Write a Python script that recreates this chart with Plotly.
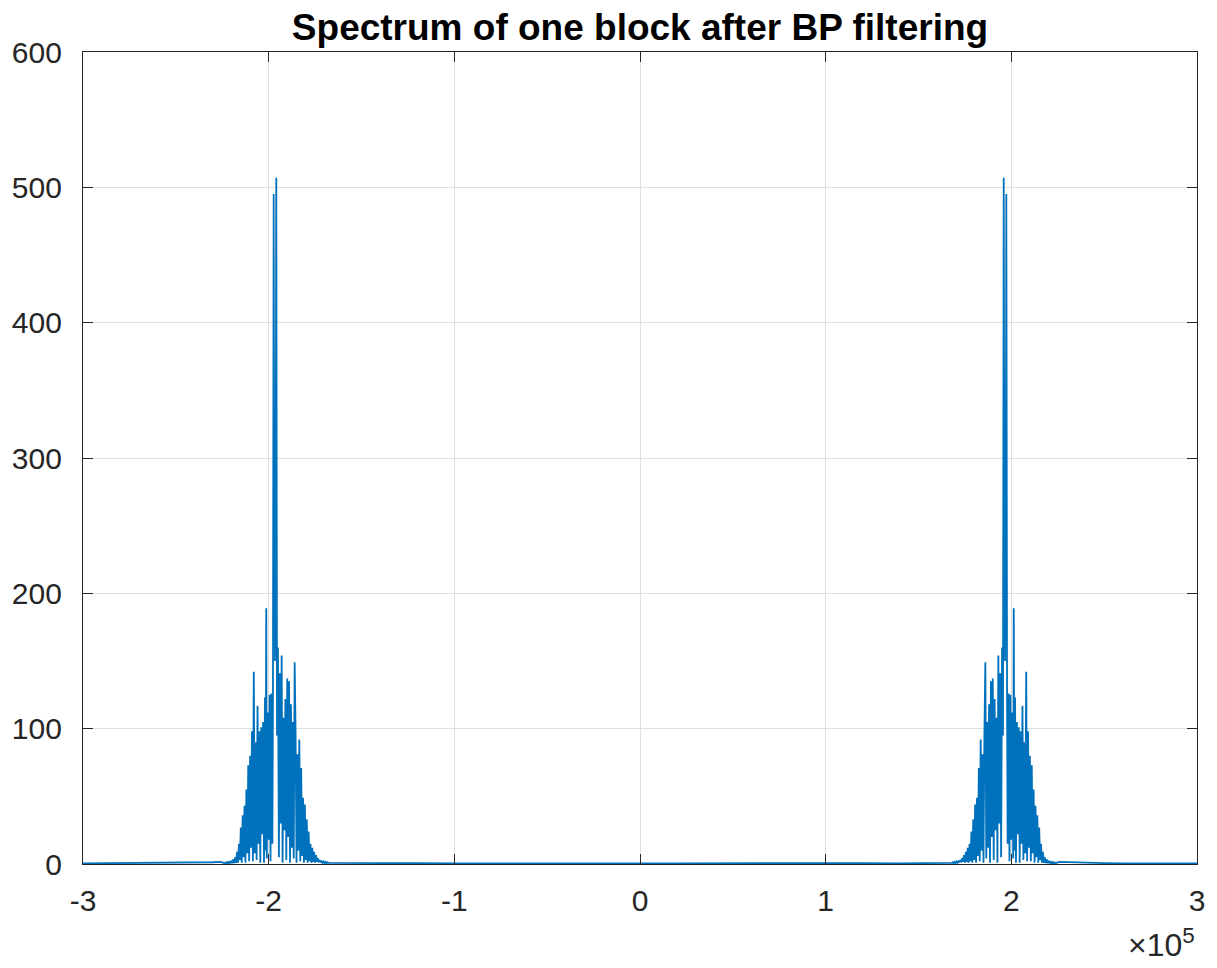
import plotly.graph_objects as go

# ---- data (frequency in kHz, magnitude) ----
floor_left_f = [-300, -290, -280, -270, -260, -250, -240, -235, -230, -226, -224.5]
floor_left_m = [0.5, 0.6, 0.4, 0.6, 0.5, 0.7, 0.8, 1.0, 1.3, 1.5, 0.8]

neg_f = [-224.0, -223.5, -223.0, -222.5, -222.0, -221.5, -221.0, -220.5, -220.0, -219.5,
         -219.0, -218.5, -218.0, -217.5, -217.0, -216.5, -216.0, -215.5, -215.0, -214.5,
         -214.0, -213.5, -213.0, -212.5, -212.0, -211.5, -211.0, -210.5, -210.0, -209.5,
         -209.0, -208.5, -208.0, -207.5, -207.0, -206.5, -206.0, -205.5, -205.0, -204.5,
         -204.0, -203.5, -203.0, -202.5, -202.0, -201.7, -201.3, -201.0, -200.5, -200.0,
         -199.5, -199.0, -198.5, -198.0, -197.7, -197.3, -197.0, -196.6, -196.3, -195.9,
         -195.5, -195.0, -194.5, -194.0, -193.5, -193.0, -192.5, -192.0, -191.5, -191.0,
         -190.5, -190.0, -189.5, -189.0, -188.5, -188.0, -187.5, -187.0, -186.5, -186.0,
         -185.5, -185.0, -184.5, -184.0, -183.5, -183.0, -182.5, -182.0, -181.5, -181.0,
         -180.5, -180.0, -179.5, -179.0, -178.5, -178.0, -177.5, -177.0, -176.5, -176.0,
         -175.5, -175.0, -174.5, -174.0, -173.5, -173.0, -172.5, -172.0, -171.5, -171.0,
         -170.5, -170.0, -169.5, -169.0, -168.5, -168.0]
neg_m = [1.0, 0.5, 1.2, 0.5, 1.5, 0.5, 1.9, 0.5, 2.5, 0.6,
         3.5, 0.7, 5, 0.8, 9, 1, 15, 3, 27, 1,
         36, 5, 43, 1, 55, 8, 73, 2, 80, 12,
         98, 2, 142, 8, 90, 3, 117, 15, 98, 1,
         101, 22, 105, 1, 123, 10, 189, 4, 112, 18,
         125, 2, 126, 15, 120, 495, 245, 150, 210, 507,
         95, 160, 5, 141, 30, 154, 1, 108, 25, 122,
         3, 137, 20, 135, 1, 118, 12, 105, 4, 149,
         96, 1, 81, 10, 92, 2, 71, 6, 49, 1,
         44, 3, 33, 1, 24, 2, 15, 1.0, 12, 1.5,
         9.0, 1.0, 6.5, 1.6, 4.2, 1.3, 2.9, 1.1, 2.3, 0.9,
         1.9, 0.8, 1.6, 0.7, 1.4, 0.9]

floor_mid_f = [-167, -160, -150, -140, -120, -100, -80, -60, -40, -20, 0,
               20, 40, 60, 80, 100, 120, 140, 150, 160, 167]
floor_mid_m = [0.8, 0.7, 0.6, 0.5, 0.6, 0.5, 0.4, 0.5, 0.6, 0.5, 0.4,
               0.5, 0.6, 0.5, 0.4, 0.5, 0.6, 0.5, 0.6, 0.7, 0.8]

pos_f = [168.0, 168.5, 169.0, 169.5, 170.0, 170.5, 171.0, 171.5, 172.0, 172.5,
         173.0, 173.5, 174.0, 174.5, 175.0, 175.5, 176.0, 176.5, 177.0, 177.5,
         178.0, 178.5, 179.0, 179.5, 180.0, 180.5, 181.0, 181.5, 182.0, 182.5,
         183.0, 183.5, 184.0, 184.5, 185.0, 185.5, 186.0, 186.5, 187.0, 187.5,
         188.0, 188.5, 189.0, 189.5, 190.0, 190.5, 191.0, 191.5, 192.0, 192.5,
         193.0, 193.5, 194.0, 194.5, 195.0, 195.5, 195.9, 196.3, 196.6, 197.0,
         197.3, 197.7, 198.0, 198.5, 199.0, 199.5, 200.0, 200.5, 201.0, 201.3,
         201.7, 202.0, 202.5, 203.0, 203.5, 204.0, 204.5, 205.0, 205.5, 206.0,
         206.5, 207.0, 207.5, 208.0, 208.5, 209.0, 209.5, 210.0, 210.5, 211.0,
         211.5, 212.0, 212.5, 213.0, 213.5, 214.0, 214.5, 215.0, 215.5, 216.0,
         216.5, 217.0, 217.5, 218.0, 218.5, 219.0, 219.5, 220.0, 220.5, 221.0,
         221.5, 222.0, 222.5, 223.0, 223.5, 224.0]
pos_m = [0.9, 1.4, 0.7, 1.6, 0.8, 1.9, 0.9, 2.3, 1.1, 2.9,
         1.3, 4.2, 1.6, 6.5, 1.0, 9.0, 1.5, 12, 1.0, 15,
         2, 24, 1, 33, 3, 44, 1, 49, 6, 71,
         2, 92, 10, 81, 1, 96, 149, 4, 105, 12,
         118, 1, 135, 20, 137, 3, 122, 25, 108, 1,
         154, 30, 141, 5, 160, 95, 507, 210, 150, 245,
         495, 120, 15, 126, 2, 125, 18, 112, 4, 189,
         10, 123, 1, 105, 22, 101, 1, 98, 15, 117,
         3, 90, 8, 142, 2, 98, 12, 80, 2, 73,
         8, 55, 1, 43, 5, 36, 1, 27, 3, 15,
         1, 9, 0.8, 5, 0.7, 3.5, 0.6, 2.5, 0.5, 1.9,
         0.5, 1.5, 0.5, 1.2, 0.5, 1.0]

floor_right_f = [224.5, 226, 230, 235, 240, 250, 260, 270, 280, 290, 300]
floor_right_m = [0.8, 1.5, 1.3, 1.0, 0.8, 0.7, 0.5, 0.6, 0.4, 0.6, 0.5]

x_tick_vals = [-3, -2, -1, 0, 1, 2, 3]          # units of 1e5 Hz
x_tick_text = ["-3", "-2", "-1", "0", "1", "2", "3"]
y_tick_vals = [0, 100, 200, 300, 400, 500, 600]

title_text = "Spectrum of one block after BP filtering"

# ---- build ----
freq_khz = floor_left_f + neg_f + floor_mid_f + pos_f + floor_right_f
mag = floor_left_m + neg_m + floor_mid_m + pos_m + floor_right_m
freq_hz = [f * 1000 for f in freq_khz]

fig = go.Figure()
fig.add_trace(go.Scatter(
    x=freq_hz, y=mag, mode="lines",
    line=dict(color="#0072BD", width=1.8),
    showlegend=False, hoverinfo="skip",
))

FONT = "Liberation Sans, Arial, Helvetica, sans-serif"
AX = "#262626"

fig.update_layout(
    width=1217, height=968,
    margin=dict(l=83, r=20, t=52, b=104),
    paper_bgcolor="white", plot_bgcolor="white",
    font=dict(family=FONT, size=30, color=AX),
    title=dict(text="<b>" + title_text + "</b>", x=0.5, xref="paper",
               xanchor="center", y=1 - 27 / 968, yref="container",
               yanchor="middle", font=dict(family=FONT, size=37, color="black")),
)
fig.update_xaxes(
    range=[-300000, 300000],
    tickvals=[v * 100000 for v in x_tick_vals], ticktext=x_tick_text,
    showgrid=True, gridcolor="#dfdfdf", gridwidth=1,
    showline=True, linecolor=AX, linewidth=1.3, mirror="ticks",
    ticks="inside", ticklen=10, tickcolor=AX, tickwidth=1.3,
    ticklabelstandoff=10, zeroline=False,
    tickfont=dict(family=FONT, size=30, color=AX),
)
fig.update_yaxes(
    range=[0, 600], tickvals=y_tick_vals,
    showgrid=True, gridcolor="#dfdfdf", gridwidth=1,
    showline=True, linecolor=AX, linewidth=1.3, mirror="ticks",
    ticks="inside", ticklen=10, tickcolor=AX, tickwidth=1.3,
    ticklabelstandoff=14, zeroline=False,
    tickfont=dict(family=FONT, size=30, color=AX),
)
fig.add_annotation(
    text="×10<sup>5</sup>", xref="paper", yref="paper",
    x=1.0, y=-0.1245, xanchor="right", yanchor="bottom",
    showarrow=False, font=dict(family=FONT, size=32, color=AX),
)

fig.write_html("out.html")
